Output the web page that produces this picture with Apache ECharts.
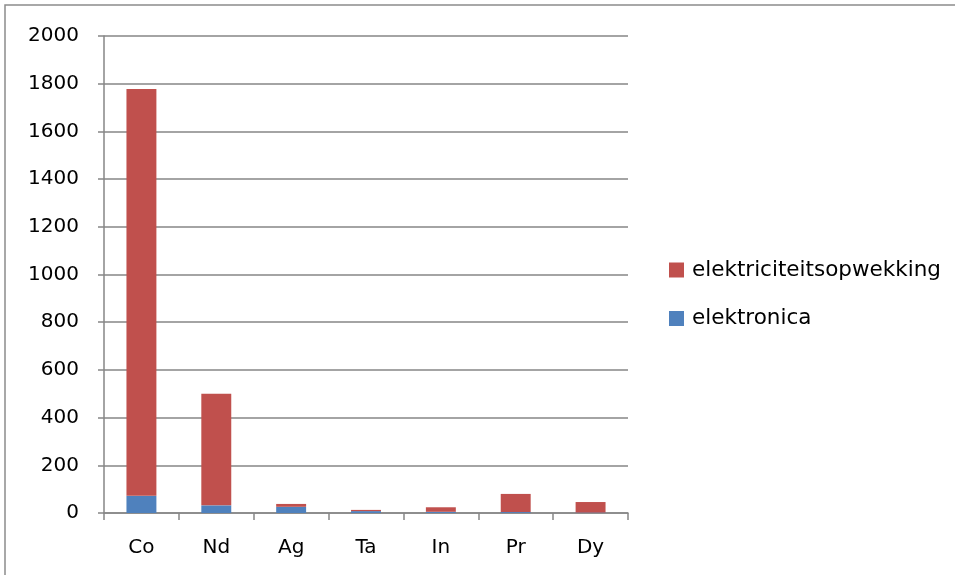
<!DOCTYPE html>
<html>
<head>
<meta charset="utf-8">
<script src="https://cdn.jsdelivr.net/npm/echarts@6/dist/echarts.min.js"></script>
<style>
  html, body { margin: 0; padding: 0; background: #fff; }
  #chart { width: 955px; height: 575px; }
</style>
</head>
<body>
<div id="chart"></div>
<script>
// Metals and their demand split by application
const categories = ['Co', 'Nd', 'Ag', 'Ta', 'In', 'Pr', 'Dy'];
const elektronica = [72, 32, 26, 8, 5, 4, 2];
const elektriciteitsopwekking = [1706, 468, 12, 5, 19, 76, 44];
const yTicks = { min: 0, max: 2000, interval: 200 };

const font = '"DejaVu Sans", sans-serif';
const chart = echarts.init(document.getElementById('chart'));

chart.setOption({
  backgroundColor: '#ffffff',
  animation: false,
  graphic: [{
    type: 'rect',
    shape: { x: 5, y: 5, width: 1200, height: 1200 },
    style: { fill: 'none', stroke: '#8c8c8c', lineWidth: 1.5 },
    silent: true
  }],
  grid: { left: 104, right: 327, top: 36, bottom: 62 },
  legend: {
    orient: 'vertical',
    left: 669,
    top: 259,
    padding: 0,
    itemWidth: 15,
    itemHeight: 15,
    itemGap: 26.5,
    icon: 'rect',
    data: ['elektriciteitsopwekking', 'elektronica'],
    textStyle: { fontFamily: font, fontSize: 21.5, color: '#000', padding: [0, 0, 0, 3] }
  },
  xAxis: {
    type: 'category',
    data: categories,
    axisLine: { lineStyle: { color: '#868686', width: 1.5 } },
    axisTick: { show: true, length: 7, lineStyle: { color: '#868686', width: 1.5 } },
    axisLabel: { margin: 25, fontFamily: font, fontSize: 20, color: '#000' }
  },
  yAxis: {
    type: 'value',
    min: yTicks.min,
    max: yTicks.max,
    interval: yTicks.interval,
    axisLine: { show: true, lineStyle: { color: '#868686', width: 1.5 } },
    axisTick: { show: true, length: 6, lineStyle: { color: '#868686', width: 1.5 } },
    splitLine: { lineStyle: { color: '#868686', width: 1.5 } },
    axisLabel: {
      margin: 25,
      fontFamily: font,
      fontSize: 20,
      color: '#000',
      formatter: (v) => String(v)
    }
  },
  series: [
    {
      name: 'elektronica',
      type: 'bar',
      stack: 'total',
      barWidth: '40%',
      data: elektronica,
      itemStyle: { color: '#4F81BD' }
    },
    {
      name: 'elektriciteitsopwekking',
      type: 'bar',
      stack: 'total',
      barWidth: '40%',
      data: elektriciteitsopwekking,
      itemStyle: { color: '#C0504D' }
    }
  ]
});
</script>
</body>
</html>
